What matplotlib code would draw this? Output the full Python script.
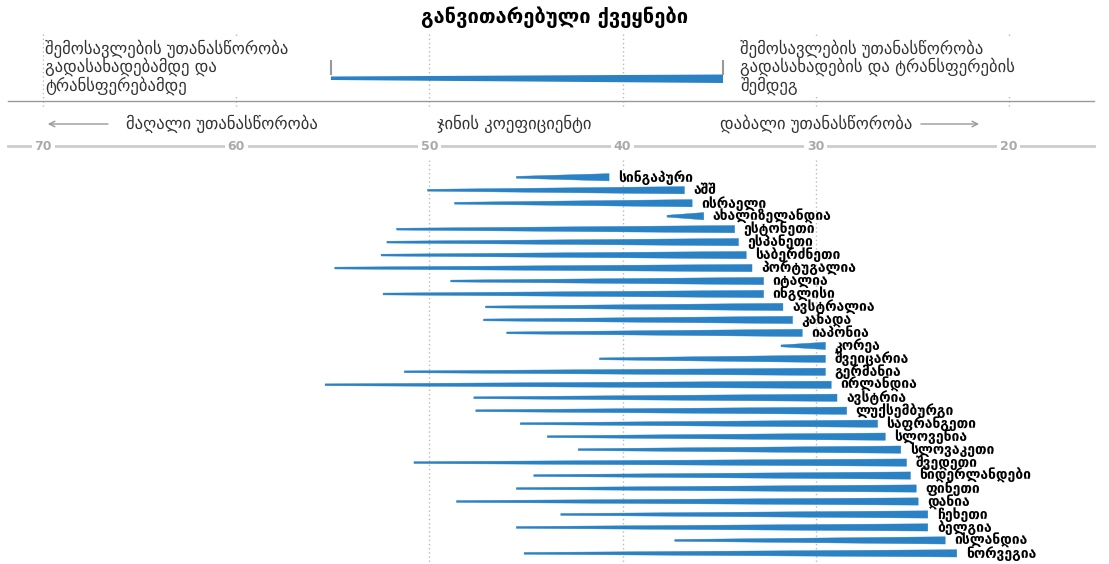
import matplotlib
matplotlib.use('Agg')
import matplotlib.pyplot as plt
from matplotlib.patches import Polygon

plt.rcParams['font.family'] = ['DejaVu Sans']

countries = ['სინგაპური', 'აშშ', 'ისრაელი', 'ახალიზელანდია', 'ესტონეთი', 'ესპანეთი',
             'საბერძნეთი', 'პორტუგალია', 'იტალია', 'ინგლისი', 'ავსტრალია', 'კანადა',
             'იაპონია', 'კორეა', 'შვეიცარია', 'გერმანია', 'ირლანდია', 'ავსტრია',
             'ლუქსემბურგი', 'საფრანგეთი', 'სლოვენია', 'სლოვაკეთი', 'შვედეთი',
             'ნიდერლანდები', 'ფინეთი', 'დანია', 'ჩეხეთი', 'ბელგია', 'ისლანდია', 'ნორვეგია']
before = [45.5, 50.1, 48.7, 37.7, 51.7, 52.2, 52.5, 54.9, 48.9, 52.4, 47.1, 47.2, 46.0, 31.8, 41.2,
          51.3, 55.4, 47.7, 47.6, 45.3, 43.9, 42.3, 50.8, 44.6, 45.5, 48.6, 43.2, 45.5, 37.3, 45.1]
after = [40.7, 36.8, 36.4, 35.8, 34.2, 34.0, 33.6, 33.3, 32.7, 32.7, 31.7, 31.2, 30.7, 29.5, 29.5,
         29.5, 29.2, 28.9, 28.4, 26.8, 26.4, 25.6, 25.3, 25.1, 24.8, 24.7, 24.2, 24.2, 23.3, 22.7]
ticks = [70, 60, 50, 40, 30, 20]
legend_before = 55.1
legend_after = 34.8

title = 'განვითარებული ქვეყნები'
note_left = 'შემოსავლების უთანასწორობა\nგადასახადებამდე და\nტრანსფერებამდე'
note_right = 'შემოსავლების უთანასწორობა\nგადასახადების და ტრანსფერების\nშემდეგ'
high_txt = 'მაღალი უთანასწორობა'
gini_txt = 'ჯინის კოეფიციენტი'
low_txt = 'დაბალი უთანასწორობა'

W, H = 1109, 564
blue = '#2a81c4'
grey_txt = '#333333'

fig = plt.figure(figsize=(W / 100, H / 100), dpi=100)
ax = fig.add_axes([0, 0, 1, 1])
ax.set_xlim(72.23, 14.82)
ax.set_ylim(29.82, -13.67)
ax.axis('off')

tr = ax.get_xaxis_transform()   # x in data, y in axes fraction


def fy(p):
    return 1 - p / H


# grid lines
for t in ticks:
    ax.plot([t, t], [fy(34), fy(107)], transform=tr, color='#bbbbbb', lw=1, ls=(0, (1, 2)), zorder=0)
for t in [50, 40, 30]:
    ax.plot([t, t], [fy(160), fy(564)], transform=tr, color='#bbbbbb', lw=1, ls=(0, (1, 2)), zorder=0)

# title + notes
ax.text(0.5, fy(17), title, transform=ax.transAxes, ha='center', va='center',
        fontsize=14.5, fontweight='bold', color='black')
box = dict(facecolor='white', edgecolor='none', pad=1)
ax.text(69.9, fy(67), note_left, transform=tr, ha='left', va='center', fontsize=12,
        color=grey_txt, linespacing=1.0, bbox=box, zorder=3)
ax.text(33.9, fy(67), note_right, transform=tr, ha='left', va='center', fontsize=12,
        color=grey_txt, linespacing=1.0, bbox=box, zorder=3)

# legend wedge
ax.plot([legend_before, legend_before], [fy(61), fy(74)], transform=tr, color='#999999', lw=1.5)
ax.plot([legend_after, legend_after], [fy(61), fy(74)], transform=tr, color='#999999', lw=1.5)
ax.add_patch(Polygon([(legend_before, fy(76.5)), (legend_after, fy(74.5)), (legend_after, fy(83)),
                      (legend_before, fy(80))], closed=True, transform=tr, color=blue, lw=0))

# separator
ax.plot([71.8, 15.6], [fy(101), fy(101)], transform=tr, color='#999999', lw=1)

# direction row
ax.annotate('', xy=(69.9, fy(124)), xytext=(66.5, fy(124)), xycoords=tr, textcoords=tr,
            arrowprops=dict(arrowstyle='->', color='#999999', lw=1))
ax.text(65.7, fy(124), high_txt, transform=tr, ha='left', va='center', fontsize=12, color=grey_txt)
ax.text(49.6, fy(124), gini_txt, transform=tr, ha='left', va='center', fontsize=12, color=grey_txt)
ax.text(25.0, fy(124), low_txt, transform=tr, ha='right', va='center', fontsize=12, color=grey_txt)
ax.annotate('', xy=(21.4, fy(124)), xytext=(24.7, fy(124)), xycoords=tr, textcoords=tr,
            arrowprops=dict(arrowstyle='->', color='#999999', lw=1))

# tick row
ax.plot([71.8, 15.6], [fy(146), fy(146)], transform=tr, color='#cccccc', lw=2)
for t in ticks:
    ax.text(t, fy(146), str(t), transform=tr, ha='center', va='center', fontsize=9,
            fontweight='bold', color='#aaaaaa', bbox=dict(facecolor='white', edgecolor='none', pad=2))

# wedges
h0, h1 = 0.07, 0.28
for i, (b, a) in enumerate(zip(before, after)):
    ax.add_patch(Polygon([(b, i - h0), (a, i - h1), (a, i + h1), (b, i + h0)],
                         closed=True, color=blue, lw=0.3, zorder=2))
    ax.annotate(countries[i], xy=(a, i), xytext=(9, 0), textcoords='offset pixels',
                ha='left', va='center', fontsize=10, fontweight='bold', color='black', zorder=4)

fig.savefig('out.png', dpi=100)
